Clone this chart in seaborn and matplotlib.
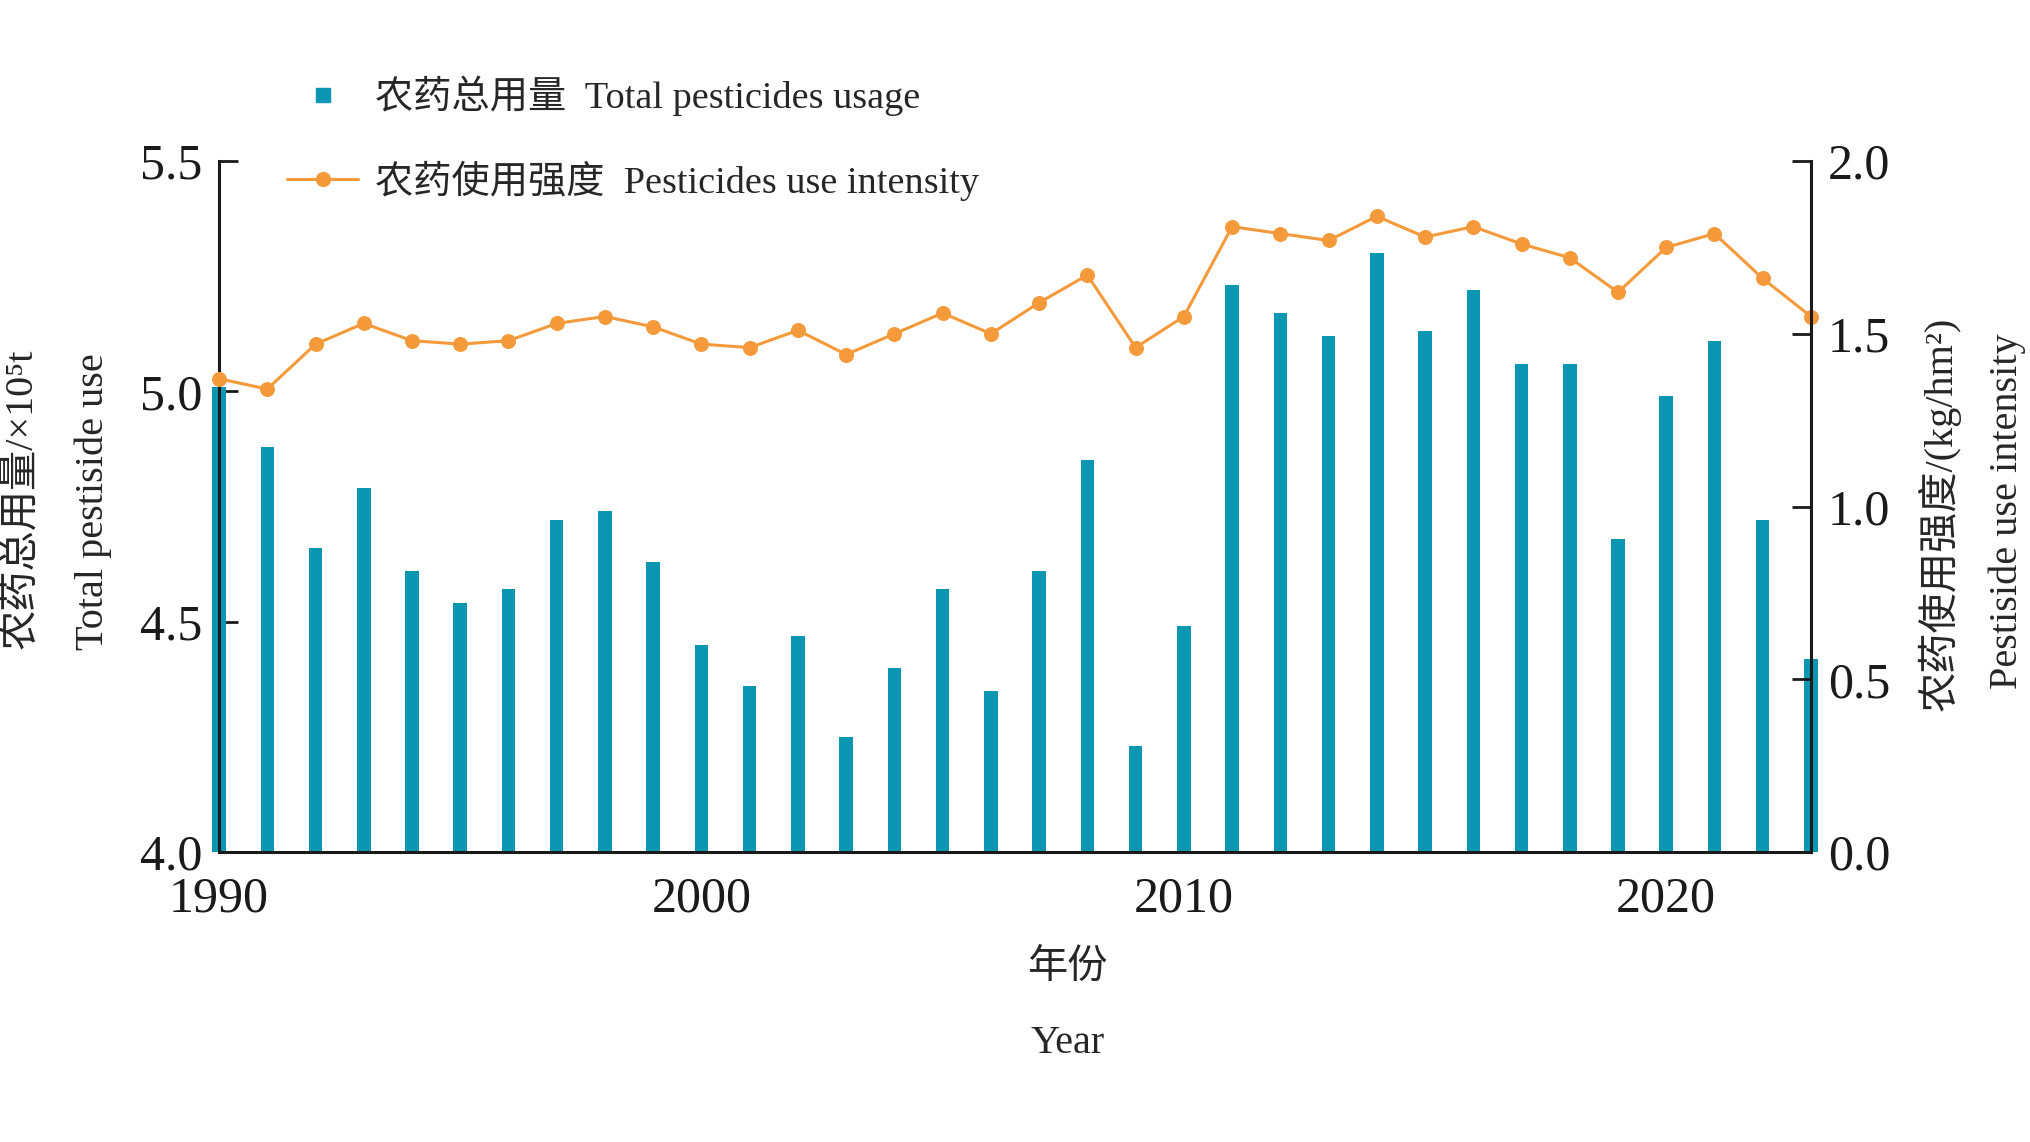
import numpy as np
import pandas as pd
import matplotlib
matplotlib.use("Agg")
import matplotlib.pyplot as plt
import seaborn as sns
from matplotlib.lines import Line2D
from matplotlib.transforms import Bbox, TransformedBbox
from matplotlib.ticker import FixedLocator, MultipleLocator

# ---------------- data ----------------
years = list(range(1990, 2024))
total_usage = [5.01, 4.88, 4.66, 4.79, 4.61, 4.54, 4.57, 4.72, 4.74, 4.63,
               4.45, 4.36, 4.47, 4.25, 4.40, 4.57, 4.35, 4.61, 4.85, 4.23,
               4.49, 5.23, 5.17, 5.12, 5.30, 5.13, 5.22, 5.06, 5.06, 4.68,
               4.99, 5.11, 4.72, 4.42]
intensity = [1.37, 1.34, 1.47, 1.53, 1.48, 1.47, 1.48, 1.53, 1.55, 1.52,
             1.47, 1.46, 1.51, 1.44, 1.50, 1.56, 1.50, 1.59, 1.67, 1.46,
             1.55, 1.81, 1.79, 1.77, 1.84, 1.78, 1.81, 1.76, 1.72, 1.62,
             1.75, 1.79, 1.66, 1.55]
left_ticks = [4.0, 4.5, 5.0, 5.5]
right_ticks = [0.0, 0.5, 1.0, 1.5, 2.0]
x_ticks = [1990, 2000, 2010, 2020]
legend_labels = ["农药总用量  Total pesticides usage",
                 "农药使用强度  Pesticides use intensity"]

df = pd.DataFrame({"year": years, "usage": total_usage, "intensity": intensity})

BAR_C = "#0B96B1"
LINE_C = "#F59A3A"

sns.set_theme(style="ticks")
plt.rcParams["font.family"] = ["Liberation Serif", "Noto Sans CJK SC", "DejaVu Sans"]
plt.rcParams["axes.unicode_minus"] = False

fig = plt.figure(figsize=(20.3, 11.42), dpi=100)
ax = fig.add_axes([0.1079, 0.2539, 0.7842, 0.6051])

sns.barplot(data=df, x="year", y="usage", native_scale=True, width=0.28,
            color=BAR_C, saturation=1, ax=ax, edgecolor="none", linewidth=0)
ax.set_ylim(4.0, 5.5)
ax.set_xlim(1990, 2023)

# let edge bars extend over the spines horizontally
clipbox = TransformedBbox(Bbox([[-0.02, 0.0], [1.02, 1.0]]), ax.transAxes)
for p in ax.patches:
    p.set_clip_path(None)
    p.set_clip_box(clipbox)

ax2 = ax.twinx()
sns.lineplot(data=df, x="year", y="intensity", ax=ax2, color=LINE_C,
             marker="o", markersize=10, markeredgecolor=LINE_C, linewidth=2.2,
             clip_on=False)
ax2.set_ylim(0.0, 2.0)
ax2.set_xlim(1990, 2023)

for a in (ax, ax2):
    a.set_xlabel("")
    a.set_ylabel("")
    a.spines["top"].set_visible(False)
    for s in a.spines.values():
        s.set_linewidth(2.2)
        s.set_color("#1a1a1a")
ax.spines["right"].set_visible(False)
ax2.spines["left"].set_visible(False)
ax2.spines["bottom"].set_visible(False)

ax.yaxis.set_major_locator(FixedLocator(left_ticks))
ax.set_yticklabels([f"{v:.1f}" for v in left_ticks])
ax2.yaxis.set_major_locator(FixedLocator(right_ticks))
ax2.set_yticklabels([f"{v:.1f}" for v in right_ticks])
ax.xaxis.set_major_locator(FixedLocator(x_ticks))
ax.set_xticklabels([str(v) for v in x_ticks])
ax.xaxis.set_minor_locator(MultipleLocator(1))

ax.tick_params(axis="y", direction="in", length=14, width=2.0, labelsize=36,
               pad=12, colors="#1a1a1a")
ax2.tick_params(axis="y", direction="in", length=14, width=2.0, labelsize=36,
                pad=12, colors="#1a1a1a")
ax.tick_params(axis="x", which="major", direction="in", length=14, width=2.0,
               labelsize=36, pad=17, colors="#1a1a1a")
ax.tick_params(axis="x", which="minor", direction="in", length=8, width=1.8)

# axis titles
fs_lab = 29
fig.text(0.0105, 0.563, "农药总用量/×10⁵t", rotation=90, ha="center",
         va="center", fontsize=fs_lab)
fig.text(0.046, 0.561, "Total pestiside use", rotation=90, ha="center",
         va="center", fontsize=fs_lab)
fig.text(0.955, 0.550, "农药使用强度/(kg/hm²)", rotation=90, ha="center",
         va="center", fontsize=fs_lab)
fig.text(0.9886, 0.552, "Pestiside use intensity", rotation=90, ha="center",
         va="center", fontsize=fs_lab)
fig.text(0.526, 0.152, "年份", ha="center", va="center", fontsize=fs_lab)
fig.text(0.526, 0.086, "Year", ha="center", va="center", fontsize=fs_lab)

handles = [Line2D([], [], ls="", marker="s", color=BAR_C, markersize=10),
           Line2D([], [], color=LINE_C, marker="o", lw=2.2, markersize=10)]
fig.legend(handles, legend_labels, loc="upper left",
           bbox_to_anchor=(0.1415, 0.9335), frameon=False, fontsize=27.5,
           handlelength=1.85, handletextpad=0.45, labelspacing=1.15,
           borderpad=0, borderaxespad=0)

fig.savefig("out.png", dpi=100)
